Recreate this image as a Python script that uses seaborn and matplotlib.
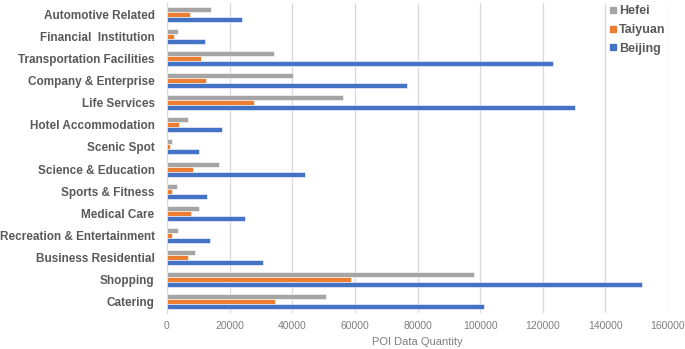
import matplotlib
matplotlib.use("Agg")
import matplotlib.pyplot as plt
import seaborn as sns
import pandas as pd
from matplotlib.lines import Line2D

categories = ["Automotive Related", "Financial  Institution", "Transportation Facilities",
              "Company & Enterprise", "Life Services", "Hotel Accommodation", "Scenic Spot",
              "Science & Education", "Sports & Fitness", "Medical Care",
              "Recreation & Entertainment", "Business Residential", "Shopping", "Catering"]
hefei = [14000, 3600, 34100, 40200, 56200, 6600, 1700, 16600, 3300, 10300, 3600, 8900, 98000, 50700]
taiyuan = [7400, 2300, 10900, 12400, 27900, 3900, 1000, 8400, 1700, 7800, 1500, 6600, 58800, 34600]
beijing = [24100, 12200, 123200, 76800, 130300, 17700, 10100, 44100, 12700, 24800, 13700, 30700, 151600, 101300]
series = ["Hefei", "Taiyuan", "Beijing"]
colors = ["#A5A5A5", "#ED7D31", "#4472C4"]
xticks = [0, 20000, 40000, 60000, 80000, 100000, 120000, 140000, 160000]

rows = []
for name, vals in zip(series, [hefei, taiyuan, beijing]):
    for c, v in zip(categories, vals):
        rows.append({"category": c, "city": name, "value": v})
df = pd.DataFrame(rows)

sns.set_theme(style="white")
plt.rcParams["font.family"] = ["Liberation Sans", "DejaVu Sans"]

fig = plt.figure(figsize=(6.85, 3.49), dpi=100)
ax = fig.add_axes([167 / 685, 36 / 349, (668 - 167) / 685, (346 - 36) / 349])

sns.barplot(data=df, y="category", x="value", hue="city", order=categories,
            hue_order=series, palette=colors, saturation=1, width=0.68, orient="h",
            edgecolor="white", linewidth=0.4, ax=ax, legend=False, zorder=3)

ax.set_xlim(0, 160000)
ax.set_xticks(xticks)
ax.set_xticklabels([str(t) for t in xticks], fontsize=7.5, color="#7F7F7F")
ax.tick_params(axis="x", length=0, pad=6)
ax.tick_params(axis="y", length=0, pad=9)
for lbl in ax.get_yticklabels():
    lbl.set_fontweight("bold")
    lbl.set_fontsize(8.5)
    lbl.set_color("#595959")
ax.set_ylabel("")
ax.set_xlabel("POI Data Quantity", fontsize=8, color="#7F7F7F", labelpad=4)
ax.grid(axis="x", color="#D9D9D9", linewidth=0.9, zorder=0)
ax.set_axisbelow(True)
for s in ["top", "right", "bottom"]:
    ax.spines[s].set_visible(False)
ax.spines["left"].set_color("#D9D9D9")
ax.spines["left"].set_linewidth(0.9)

handles = [Line2D([0], [0], marker="s", linestyle="none", markersize=5,
                  markerfacecolor=c, markeredgecolor=c) for c in colors]
leg = ax.legend(handles, series, loc="upper left", bbox_to_anchor=(603 / 685, 1.0),
                bbox_transform=fig.transFigure, frameon=False, handletextpad=0.1,
                handlelength=0.8, labelspacing=0.55, borderaxespad=0.0,
                prop={"weight": "bold", "size": 9})
for t in leg.get_texts():
    t.set_color("#595959")

fig.savefig("out.png", dpi=100)
